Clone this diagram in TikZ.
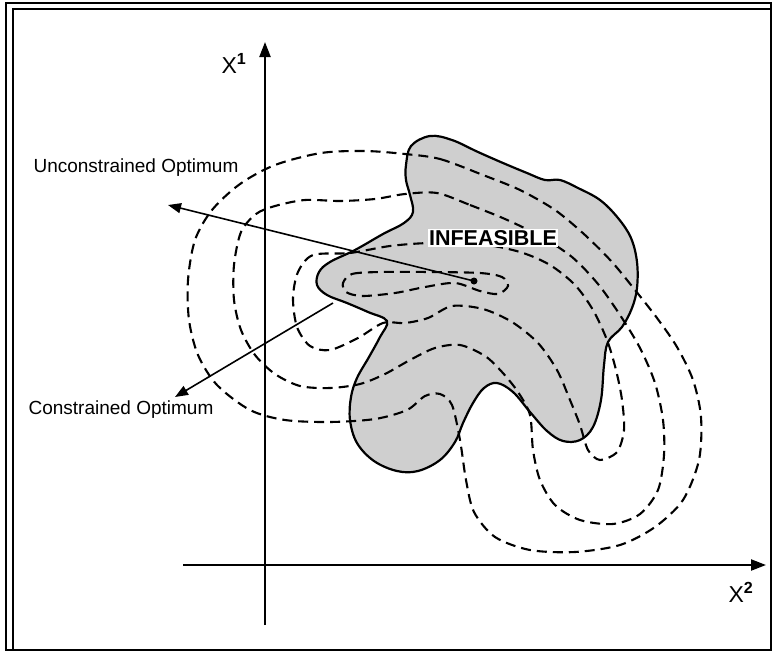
\documentclass[tikz,border=0pt]{standalone}
\usepackage{fontspec}
\setmainfont{Liberation Sans}
\usetikzlibrary{arrows.meta}
\tikzset{
  region/.style = {draw,line width=2.2pt,fill=black!19,line join=round},
  level/.style  = {line width=2.1pt,dash pattern=on 10pt off 6pt},
  axis/.style   = {-{Triangle[length=15pt,width=11pt]},line width=2.2pt},
  arrow/.style  = {-{Triangle[length=13pt,width=10pt]},line width=1.6pt},
  lbl/.style    = {font=\fontsize{19}{22}\selectfont,inner sep=0pt},
  axlbl/.style  = {font=\fontsize{23}{25}\selectfont,inner sep=0pt},
}

\begin{document}
\begin{tikzpicture}[x=1pt,y=-1pt]
  \useasboundingbox (0,0) rectangle (774,654);
  % frame
  \draw[line width=1.6pt] (6,3) rectangle (771,650);
  \draw[line width=1.4pt] (13,9) rectangle (771,650);

  % axes
  \coordinate (ybot) at (265,625);
  \coordinate (ytop) at (265,42);
  \coordinate (xlft) at (183,565);
  \coordinate (xrgt) at (766,565);
  \draw[axis] (ybot) -- (ytop);
  \draw[axis] (xlft) -- (xrgt);
  \node[axlbl] (xone) at (234,63) {X\textsuperscript{\bfseries 1}};
  \node[axlbl] (xtwo) at (741,592) {X\textsuperscript{\bfseries 2}};

  % infeasible region
  \draw[region] plot[smooth cycle,tension=0.6] coordinates {
    (406,165) (411,146) (430,136) (452,140) (478,152) (503,163) (527,173)
    (545,180) (560,180) (578,188) (600,200) (618,218) (631,238) (637,262)
    (637,288) (632,308) (622,327) (608,342) (604,365) (601,400) (593,427)
    (580,440) (563,441) (547,431) (530,412) (513,392) (497,383) (484,388)
    (473,403) (463,423) (455,442) (440,460) (418,471) (397,471) (374,461)
    (357,443) (350,420) (351,397) (357,378) (369,357) (380,337) (387,321)
    (368,312) (347,303) (327,295) (317,285) (319,272) (330,262) (355,250)
    (383,234) (404,223) (413,212) (410,195) (406,180)};

  % level sets
  \draw[level] plot[smooth cycle] coordinates {
    (405,154) (440,159) (483,175) (520,190) (555,210) (585,235) (612,262)
    (635,290) (657,318) (677,347) (693,380) (701,417) (699,460) (683,500)
    (655,527) (620,545) (575,552) (530,550) (495,537) (474,512) (466,480)
    (460,440) (452,405) (440,394) (425,396) (407,410) (375,419) (330,422)
    (285,420) (250,410) (217,385) (198,355) (189,320) (188,280) (195,240)
    (212,210) (240,184) (275,165) (321,153) (365,151)};
  \draw[level] plot[smooth cycle] coordinates {
    (437,193) (470,205) (505,219) (540,236) (572,257) (598,284) (620,315)
    (640,348) (655,383) (663,420) (664,455) (658,490) (640,514) (613,524)
    (580,520) (555,505) (540,480) (533,450) (530,415) (518,392) (502,372)
    (485,356) (460,345) (435,348) (410,360) (385,374) (360,384) (330,388)
    (300,386) (275,374) (255,355) (241,330) (234,300) (234,265) (241,232)
    (256,214) (275,206) (305,200) (340,201) (375,199) (405,194)};
  \draw[level] plot[smooth cycle] coordinates {
    (313,255) (350,253) (390,246) (430,243) (480,244) (520,252) (550,265)
    (575,285) (593,310) (607,340) (616,370) (622,400) (624,430) (617,452)
    (600,460) (588,450) (580,425) (570,400) (557,370) (538,343) (512,322)
    (483,309) (452,306) (428,318) (405,323) (383,323) (358,338) (330,350)
    (310,346) (297,327) (293,298) (298,272)};
  \draw[level] plot[smooth cycle] coordinates {
    (343,283) (352,274) (380,272) (430,272) (480,273) (502,277) (508,286)
    (498,294) (480,291) (455,283) (425,287) (395,293) (362,296) (346,292)};

  \node[fill=white,inner sep=1.5pt,font=\bfseries\fontsize{21.5}{24}\selectfont]
    (infeas) at (493,238) {INFEASIBLE};

  % optima
  \node[circle,fill=black,inner sep=0pt,minimum size=7pt] (uopt) at (474,281) {};
  \coordinate (copt) at (333,303);
  \coordinate (uend) at (168,205);
  \coordinate (cend) at (175,397);
  \draw[arrow] (uopt.center) -- (uend);
  \draw[arrow] (copt) -- (cend);
  \node[lbl] (ulbl) at (136,168) {Unconstrained Optimum};
  \node[lbl] (clbl) at (121,410) {Constrained Optimum};
\end{tikzpicture}
\end{document}
